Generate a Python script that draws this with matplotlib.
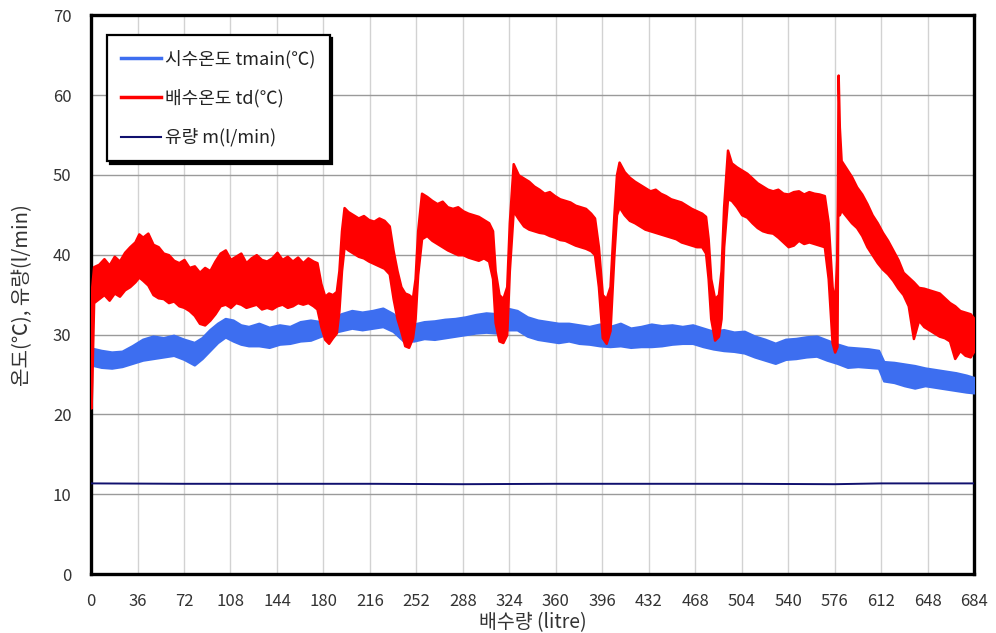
import matplotlib
matplotlib.use("Agg")
import matplotlib.pyplot as plt
from matplotlib.lines import Line2D

plt.rcParams['font.family'] = ['Noto Sans CJK KR', 'DejaVu Sans']

# 배수온도 td : 잡음이 큰 신호라 상한/하한 포락선으로 기록
td_x = [0, 0.6, 2, 6, 10, 14, 18, 22, 26, 30, 34, 37, 40, 44, 48, 52, 56, 60, 64, 68,
        72, 76, 80, 84, 88, 92, 96, 100, 104, 108, 112, 116, 120, 124, 128, 132, 136, 140, 144, 148,
        152, 156, 160, 164, 168, 172, 175, 178, 181, 184, 187, 190, 192, 194, 196, 199, 203, 207, 211, 215,
        219, 223, 227, 231, 234, 237, 240, 243, 246, 249, 251, 253, 256, 260, 264, 268, 272, 276, 280, 284,
        288, 292, 296, 300, 304, 308, 311, 313, 316, 319, 322, 324, 327, 331, 335, 339, 343, 347, 351, 355,
        359, 363, 367, 371, 375, 379, 383, 387, 390, 393, 396, 399, 402, 405, 407, 409, 413, 417, 421, 425,
        429, 433, 437, 441, 445, 449, 453, 457, 461, 465, 469, 473, 476, 478, 480, 483, 486, 488, 490, 493,
        496, 500, 504, 508, 512, 516, 520, 524, 528, 532, 536, 540, 544, 548, 552, 556, 560, 564, 568, 571,
        574, 576, 577.8, 578.7, 579.6, 581, 585, 589, 593, 597, 601, 605, 609, 613, 617, 621, 625, 629, 633, 637,
        641, 645, 649, 653, 657, 661, 665, 669, 673, 677, 681, 684]
td_hi = [21.5, 36.0, 38.5, 38.8, 39.5, 38.7, 39.8, 39.2, 40.3, 41.0, 41.6, 42.6, 42.2, 42.7, 41.3, 41.0, 40.2, 40.0, 39.3, 39.0,
         39.4, 38.4, 38.6, 37.8, 38.4, 38.0, 39.2, 40.2, 40.6, 39.4, 39.8, 40.2, 39.0, 39.6, 40.0, 39.4, 39.2, 39.6, 40.3, 39.4,
         39.8, 39.2, 39.7, 39.0, 39.6, 39.2, 39.0, 36.4, 34.8, 35.2, 35.0, 35.4, 38.0, 43.0, 45.9, 45.4, 45.0, 44.6, 44.9, 44.4,
         44.2, 44.6, 44.3, 43.6, 40.5, 38.0, 36.0, 35.2, 35.0, 34.6, 37.0, 43.0, 47.7, 47.3, 46.8, 46.4, 46.7, 46.0, 45.8, 46.0,
         45.5, 45.2, 45.0, 44.8, 44.4, 44.0, 43.0, 38.0, 35.0, 34.5, 36.0, 44.0, 51.4, 50.0, 49.6, 49.2, 48.6, 48.2, 47.7, 47.9,
         47.4, 47.0, 46.8, 46.6, 46.2, 46.0, 45.8, 45.2, 44.6, 41.0, 35.0, 34.5, 36.0, 45.0, 50.0, 51.6, 50.4, 49.7, 49.2, 48.8,
         48.4, 48.0, 48.2, 47.7, 47.4, 47.0, 46.8, 46.6, 46.2, 45.8, 45.5, 45.2, 44.8, 42.0, 37.0, 34.5, 35.0, 38.0, 46.0, 53.1,
         51.5, 51.0, 50.6, 50.2, 49.6, 49.0, 48.6, 48.2, 48.0, 48.2, 47.7, 47.6, 47.9, 48.0, 47.6, 47.9, 47.7, 47.6, 47.4, 44.0,
         36.0, 34.0, 40.0, 62.5, 56.0, 51.8, 50.8, 49.8, 48.5, 47.6, 46.4, 45.0, 44.0, 42.8, 41.8, 40.6, 39.4, 37.8, 37.2, 36.6,
         35.9, 35.8, 35.6, 35.4, 35.2, 34.6, 34.0, 33.6, 33.0, 32.8, 32.6, 32.0]
td_lo = [20.8, 24.0, 34.0, 34.5, 35.0, 34.3, 35.2, 34.8, 35.6, 36.0, 36.6, 37.2, 36.8, 36.2, 35.0, 34.6, 34.5, 34.0, 34.2, 33.6,
         33.4, 33.0, 32.4, 31.4, 31.2, 31.8, 32.6, 33.6, 33.8, 33.4, 34.0, 33.8, 33.4, 33.6, 33.8, 33.2, 33.4, 33.2, 33.6, 33.8,
         33.4, 33.6, 34.0, 33.8, 34.0, 33.6, 33.2, 31.0, 29.4, 28.9, 29.6, 30.2, 33.0, 38.0, 41.0, 40.6, 40.2, 39.8, 39.6, 39.2,
         38.9, 38.6, 38.3, 37.6, 34.5, 32.0, 30.4, 28.6, 28.4, 29.6, 32.0, 37.5, 42.0, 42.4, 41.8, 41.4, 41.0, 40.6, 40.3, 40.0,
         40.0, 39.7, 39.5, 39.3, 39.6, 39.2, 37.0, 31.5, 29.2, 29.0, 30.0, 38.0, 45.5, 44.5, 43.6, 43.2, 43.0, 42.8, 42.7, 42.4,
         42.2, 41.9, 41.8, 41.5, 41.2, 41.0, 40.8, 40.5, 40.0, 36.0, 29.6, 28.9, 30.5, 40.0, 45.0, 46.0, 45.0, 44.3, 44.0, 43.6,
         43.2, 43.0, 42.8, 42.6, 42.4, 42.2, 42.0, 41.6, 41.4, 41.2, 41.0, 41.0, 40.2, 37.0, 32.0, 29.3, 29.8, 32.0, 41.0, 47.0,
         46.8, 46.0, 45.0, 44.7, 44.0, 43.4, 43.0, 42.8, 42.7, 42.2, 41.6, 41.0, 41.2, 41.8, 41.4, 41.6, 41.4, 41.2, 41.0, 37.0,
         29.0, 27.8, 28.5, 55.0, 45.0, 45.6, 44.8, 44.0, 43.4, 42.4, 41.0, 40.0, 39.0, 38.2, 37.6, 36.8, 35.8, 35.0, 33.6, 29.5,
         31.8, 31.0, 30.6, 30.2, 29.8, 29.6, 29.2, 27.0, 28.0, 27.4, 27.2, 28.0]

# 시수온도 tmain
tm_x = [0, 8, 16, 24, 32, 40, 48, 56, 64, 72, 80, 86, 92, 98, 104, 110, 116, 122, 130, 138,
        146, 154, 162, 170, 178, 186, 194, 202, 210, 218, 226, 234, 242, 250, 258, 266, 274, 282, 290, 298,
        306, 314, 322, 330, 338, 346, 354, 362, 370, 378, 386, 394, 402, 410, 418, 426, 434, 442, 450, 458,
        466, 474, 482, 490, 498, 506, 514, 522, 530, 538, 546, 554, 562, 570, 578, 586, 594, 602, 610, 614,
        622, 630, 638, 646, 654, 662, 670, 678, 684]
tm_hi = [28.3, 28.0, 27.8, 27.9, 28.6, 29.4, 29.8, 29.6, 29.9, 29.4, 29.0, 29.6, 30.6, 31.4, 32.0, 31.8, 31.2, 31.0, 31.4, 30.9,
         31.2, 31.0, 31.6, 31.8, 31.6, 32.0, 32.6, 33.0, 32.8, 33.0, 33.3, 32.6, 31.2, 31.3, 31.6, 31.7, 31.9, 32.0, 32.2, 32.5,
         32.7, 32.6, 33.3, 33.0, 32.2, 31.8, 31.6, 31.4, 31.4, 31.2, 31.0, 31.3, 31.0, 31.4, 30.8, 31.0, 31.3, 31.1, 31.2, 31.0,
         31.2, 30.8, 30.4, 30.6, 30.3, 30.4, 29.8, 29.4, 28.9, 29.4, 29.5, 29.7, 29.8, 29.3, 28.8, 28.4, 28.3, 28.2, 28.0, 26.6,
         26.5, 26.3, 26.1, 25.8, 25.6, 25.4, 25.2, 24.9, 24.6]
tm_lo = [26.2, 25.9, 25.8, 26.0, 26.4, 26.8, 27.0, 27.2, 27.4, 26.9, 26.2, 27.0, 28.0, 29.0, 29.7, 29.2, 28.8, 28.6, 28.6, 28.4,
         28.8, 28.9, 29.2, 29.3, 29.8, 30.2, 30.5, 30.8, 30.6, 30.8, 31.0, 30.4, 29.2, 29.2, 29.5, 29.4, 29.6, 29.8, 30.0, 30.2,
         30.3, 30.2, 30.6, 30.6, 29.8, 29.4, 29.2, 29.0, 29.2, 28.9, 28.8, 28.6, 28.5, 28.6, 28.4, 28.5, 28.5, 28.6, 28.8, 28.9,
         28.9, 28.5, 28.2, 28.0, 27.9, 27.7, 27.2, 26.8, 26.4, 26.9, 27.0, 27.2, 27.3, 26.8, 26.4, 25.9, 26.0, 25.9, 25.8, 24.2,
         24.0, 23.6, 23.3, 23.6, 23.4, 23.2, 23.0, 22.8, 22.7]

# 유량 m
m_x = [0, 72, 144, 216, 288, 360, 432, 504, 576, 612, 684]
m_val = [11.35, 11.3, 11.3, 11.3, 11.25, 11.3, 11.3, 11.3, 11.25, 11.35, 11.35]

x_ticks = list(range(0, 685, 36))
y_ticks = list(range(0, 71, 10))

c_main = '#3d6ef0'
c_drain = '#ff0000'
c_flow = '#10106e'

fig = plt.figure(figsize=(9.96, 6.33), dpi=100)
ax = fig.add_axes([0.0914, 0.0932, 0.8866, 0.8828])

ax.fill_between(tm_x, tm_lo, tm_hi, color=c_main, lw=1.8, zorder=3)
ax.fill_between(td_x, td_lo, td_hi, color=c_drain, lw=1.8, zorder=4)
ax.plot(m_x, m_val, color=c_flow, lw=1.4, zorder=5)

ax.set_xlim(0, 684)
ax.set_ylim(0, 70)
ax.set_xticks(x_ticks)
ax.set_yticks(y_ticks)
ax.xaxis.grid(True, color='#d2d2d2', lw=1)
ax.yaxis.grid(True, color='#9a9a9a', lw=1)
ax.set_axisbelow(True)
ax.tick_params(length=0, labelsize=12, colors='#333333')
ax.tick_params(axis='x', pad=14)
ax.tick_params(axis='y', pad=14)
for s in ax.spines.values():
    s.set_linewidth(2.4)
    s.set_color('black')

ax.set_xlabel('배수량 (litre)', fontsize=14, color='#333333', labelpad=1)
ax.set_ylabel('온도(℃), 유량(l/min)', fontsize=14.5, color='#333333', labelpad=14)

handles = [Line2D([], [], color=c_main, lw=2.5),
           Line2D([], [], color=c_drain, lw=2.5),
           Line2D([], [], color=c_flow, lw=1.5)]
labels = ['시수온도 tmain(℃)', '배수온도 td(℃)', '유량 m(l/min)']
leg = ax.legend(handles, labels, loc='upper left', bbox_to_anchor=(0.018, 0.964),
                fontsize=13, frameon=True, fancybox=False, borderpad=0.8,
                labelspacing=1.15, handlelength=2.2, handletextpad=0.2,
                borderaxespad=0, shadow={'color': 'black', 'alpha': 1.0})
leg.get_frame().set_edgecolor('black')
leg.get_frame().set_linewidth(1.6)
for t in leg.get_texts():
    t.set_color('#222222')

fig.savefig('out.png', dpi=100)
